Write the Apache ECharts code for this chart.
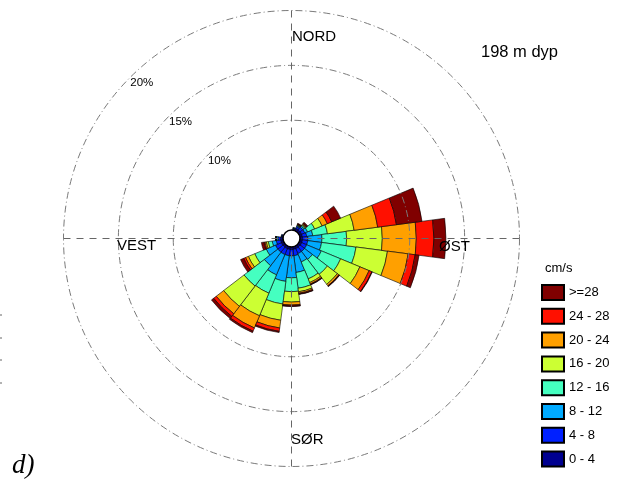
<!DOCTYPE html>
<html>
<head>
<meta charset="utf-8">
<script src="https://cdn.jsdelivr.net/npm/echarts@6/dist/echarts.min.js"></script>
<style>
html,body{margin:0;padding:0;background:#fff;}
#chart{width:627px;height:488px;}
</style>
</head>
<body>
<div id="chart"></div>
<script>
// Direction bins (degrees, clockwise from north)
const bearings = ['0','15','30','45','60','75','90','105','120','135','150','165','180','195','210','225','240','255','270','285','300','315','330','345'];
// Speed classes (cm/s)
const speedClasses = ['0 - 4','4 - 8','8 - 12','12 - 16','16 - 20','20 - 24','24 - 28','>=28'];
// Frequency (%) per direction for each speed class
const s0_4   = [0,0.08,0.23,0.23,0.23,0.23,0.23,0.23,0.23,0.23,0.23,0.23,0.23,0.23,0.23,0.23,0.23,0.23,0.23,0.08,0,0,0,0];
const s4_8   = [0,0.08,0.18,0.31,0.31,0.40,0.49,0.49,0.49,0.49,0.49,0.58,0.58,0.58,0.58,0.58,0.58,0.40,0.22,0.08,0,0,0,0];
const s8_12  = [0,0.05,0.09,0.14,0.27,0.55,1.28,1.27,1.45,0.91,0.82,1.54,2.00,2.36,2.00,1.54,0.91,0.37,0.14,0.03,0,0,0,0];
const s12_16 = [0,0.02,0.04,0.09,0.70,1.35,2.25,3.17,1.90,1.72,1.67,1.45,1.26,2.08,1.81,2.33,1.13,0.36,0.04,0,0,0,0,0];
const s16_20 = [0,0,0.05,0.09,0.73,2.45,3.25,2.89,1.90,1.14,0.36,0.32,0.95,1.49,2.23,2.34,0.63,0.18,0.02,0,0,0,0,0];
const s20_24 = [0,0,0.04,0.07,0.52,2.17,3.10,1.90,0.91,0.17,0.14,0.13,0.27,0.71,1.20,0.85,0.28,0.13,0.01,0,0,0,0,0];
const s24_28 = [0,0,0.03,0.05,0.43,1.72,1.60,0.64,0.27,0.05,0.06,0.08,0.09,0.31,0.32,0.30,0.18,0.09,0.01,0,0,0,0,0];
const s28    = [0,0,0.06,0.11,0.88,2.35,1.10,0.36,0.05,0.04,0.03,0.04,0.05,0.11,0.14,0.25,0.31,0.23,0.01,0,0,0,0,0];
// Ring ticks
const ringValues = [10, 15, 20];
const ringLabels = ['10%', '15%', '20%'];
// Compass labels
const compassLabels = ['NORD', 'ØST', 'SØR', 'VEST'];

const seriesData = [s0_4, s4_8, s8_12, s12_16, s16_20, s20_24, s24_28, s28];
const classColors = ['#000090','#0020FF','#00AAFF','#45FFC0','#CCFF33','#FFA000','#FF1000','#800000'];

const C = [291.5, 238.5];
const R = [8.5, 228];
const ringDash = [7, 3, 1, 3];
const crossDash = [7, 6];
const hidden = {axisLine:{show:false}, axisTick:{show:false}, axisLabel:{show:false}, splitLine:{show:false}, splitArea:{show:false}};

const chart = echarts.init(document.getElementById('chart'), null, {renderer:'canvas'});

const series = speedClasses.map((name, i) => ({
  name: name,
  type: 'bar',
  coordinateSystem: 'polar',
  polarIndex: 0,
  stack: 'rose',
  barCategoryGap: '0%',
  data: seriesData[i].map(v => v === 0 ? null : v),
  itemStyle: {color: classColors[i], borderColor: '#000', borderWidth: 0.6},
  emphasis: {disabled: true},
  animation: false
}));

const txt = (x, y, text, font) => ({type:'text', x:x, y:y, z:100, style:{text:text, font:font, fill:'#000', textAlign:'left', textVerticalAlign:'middle'}});
const tick = (y) => ({type:'line', shape:{x1:0,y1:y,x2:2,y2:y}, style:{stroke:'#666', lineWidth:1}});

const option = {
  animation: false,
  backgroundColor: '#fff',
  polar: [
    {center: C, radius: R},
    {center: C, radius: R},
    {center: C, radius: R},
    {center: C, radius: [0, 8.5]}
  ],
  angleAxis: [
    Object.assign({polarIndex:0, type:'category', data:bearings, startAngle:97.5, clockwise:true, boundaryGap:true}, hidden),
    Object.assign({}, hidden, {polarIndex:1, type:'value', min:0, max:360, interval:90, startAngle:90, clockwise:true, z:10,
      splitLine:{show:true, lineStyle:{color:'#666', width:1, type:crossDash}}}),
    Object.assign({polarIndex:2, type:'value', min:0, max:360, startAngle:135}, hidden),
    Object.assign({}, hidden, {polarIndex:3, type:'value', min:0, max:360, startAngle:90, z:11,
      axisLine:{show:true, lineStyle:{color:'#000', width:1.5}}})
  ],
  radiusAxis: [
    Object.assign({polarIndex:0, type:'value', min:0, max:20}, hidden),
    Object.assign({}, hidden, {polarIndex:1, type:'value', min:0, max:20, interval:5, z:10,
      splitLine:{show:true, lineStyle:{color:['rgba(0,0,0,0)','rgba(0,0,0,0)','#7a7a7a','#7a7a7a','#7a7a7a'], width:1, type:ringDash}}}),
    Object.assign({}, hidden, {polarIndex:2, type:'value', min:0, max:20, interval:5, z:10,
      axisLabel:{show:true, margin:0, align:'left', verticalAlign:'top', fontSize:11.5, fontFamily:'Liberation Sans, Arial', color:'#000',
        formatter: v => { const k = ringValues.indexOf(v); return k >= 0 ? ringLabels[k] : ''; }}}),
    Object.assign({polarIndex:3, type:'value', min:0, max:1}, hidden)
  ],
  legend: {
    data: speedClasses.slice().reverse(),
    orient: 'vertical',
    left: 541,
    top: 284,
    itemWidth: 22,
    itemHeight: 15,
    itemGap: 6.8,
    padding: 0,
    icon: 'rect',
    selectedMode: false,
    textStyle: {fontSize: 13, fontFamily: 'Liberation Sans, Arial', color: '#000'}
  },
  graphic: [
    txt(292, 37, compassLabels[0], '15px "Liberation Sans", Arial'),
    txt(439, 247, compassLabels[1], '15px "Liberation Sans", Arial'),
    txt(291, 440, compassLabels[2], '15px "Liberation Sans", Arial'),
    txt(117, 246, compassLabels[3], '15px "Liberation Sans", Arial'),
    txt(481, 52, '198 m dyp', '16.5px "Liberation Sans", Arial'),
    txt(545, 268, 'cm/s', '13px "Liberation Sans", Arial'),
    txt(12, 466, 'd)', 'italic 27px "Liberation Serif", "Times New Roman", serif'),
    tick(315), tick(338), tick(360), tick(383)
  ],
  series: series
};
chart.setOption(option);
</script>
</body>
</html>
